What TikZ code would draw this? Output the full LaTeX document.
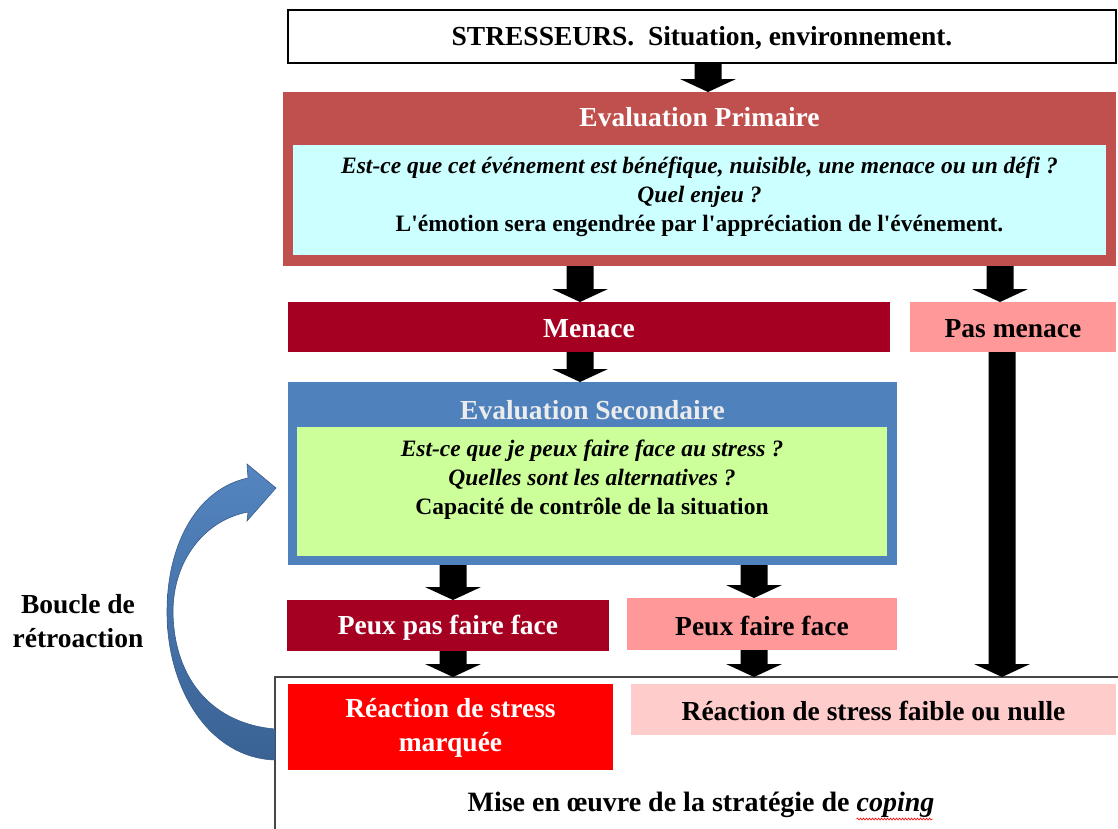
\documentclass[tikz,border=0pt]{standalone}
\usepackage{fontspec}
\setmainfont{Liberation Serif}[Ligatures=TeXOff]
\usetikzlibrary{calc,decorations.pathmorphing}
\definecolor{primred}{RGB}{192,80,77}
\definecolor{cyanin}{RGB}{204,255,255}
\definecolor{darkred}{RGB}{165,0,33}
\definecolor{pinkbox}{RGB}{255,153,153}
\definecolor{secblue}{RGB}{79,129,189}
\definecolor{greenin}{RGB}{204,255,153}
\definecolor{lightpink}{RGB}{255,204,204}
\definecolor{framegray}{RGB}{70,70,70}
\definecolor{arrtop}{RGB}{84,133,192}
\definecolor{arrbot}{RGB}{58,98,148}
\definecolor{arredge}{RGB}{56,92,138}
\definecolor{sectitle}{RGB}{236,236,236}
\tikzset{
  panel/.style={rectangle, inner sep=0pt, outer sep=0pt},
  hd/.style={font=\fontsize{27.5}{34}\selectfont\bfseries, align=center, inner sep=0pt},
  bd/.style={font=\fontsize{23.5}{29}\selectfont\bfseries, align=center, inner sep=0pt},
}
\newcommand\blockarr[2]{\fill[black] let \p1=(#1), \p2=(#2) in
  (\x1-13.5pt,\y1) -- (\x1+13.5pt,\y1) -- (\x1+13.5pt,\y2+13pt) -- (\x1+28pt,\y2+13pt)
  -- (\x1,\y2) -- (\x1-28pt,\y2+13pt) -- (\x1-13.5pt,\y2+13pt) -- cycle;}
\begin{document}
\begin{tikzpicture}[x=1pt,y=-1pt]
\useasboundingbox (0,0) rectangle (1118,828);
\fill[white] (0,0) rectangle (1118,828);

% top box
\node[panel, draw=black, line width=1.3pt, fill=white, minimum width=828pt, minimum height=53pt] (stress) at (702,36.5) {};
\node[hd] (stresst) at (702,38) {STRESSEURS.\ \ Situation, environnement.};

% primary evaluation
\node[panel, fill=primred, minimum width=833pt, minimum height=174pt] (prim) at (699.5,179) {};
\node[panel, fill=cyanin, minimum width=813pt, minimum height=110pt] (primin) at (699.5,200) {};
\node[hd, text=white] (primt) at (699.5,117) {Evaluation Primaire};
\node[bd] (primq) at (699.5,197) {\itshape Est-ce que cet événement est bénéfique, nuisible,\ une menace ou un défi ?\\ \itshape Quel enjeu ?\\ L'émotion sera engendrée par l'appréciation de l'événement.};

% menace row
\node[panel, fill=darkred, minimum width=602pt, minimum height=50pt] (men) at (589,327) {};
\node[hd, text=white] (ment) at (589,329) {Menace};
\node[panel, fill=pinkbox, minimum width=206pt, minimum height=50pt] (pasmen) at (1013,327) {};
\node[hd] (pasment) at (1013,329) {Pas menace};

% secondary evaluation
\node[panel, fill=secblue, minimum width=609pt, minimum height=183pt] (sec) at (592.5,473.5) {};
\node[panel, fill=greenin, minimum width=590pt, minimum height=129pt] (secin) at (592,491.5) {};
\node[hd, text=sectitle] (sect) at (592.5,410) {Evaluation Secondaire};
\node[bd] (secq) at (592,480) {\itshape Est-ce que je peux faire face au stress ?\\ \itshape Quelles sont les alternatives ?\\ Capacité de contrôle de la situation};

% coping rows
\node[panel, fill=darkred, minimum width=322pt, minimum height=51pt] (ppf) at (448,625.5) {};
\node[hd, text=white] (ppft) at (448,628) {Peux pas faire face};
\node[panel, fill=pinkbox, minimum width=270pt, minimum height=52pt] (pf) at (762,624) {};
\node[hd] (pft) at (762,626) {Peux faire face};

% bottom frame
\coordinate (frame) at (275,677);
\draw[framegray, line width=1.2pt] (1125,677) -- (frame) -- (275,835);
\node[panel, fill=red, minimum width=325pt, minimum height=86pt] (rm) at (450.5,727) {};
\node[hd, text=white] (rmt) at (450.5,728) {Réaction de stress\\ marquée};
\node[panel, fill=lightpink, minimum width=485pt, minimum height=51pt] (rf) at (873.5,709.5) {};
\node[hd] (rft) at (873.5,711) {Réaction de stress faible ou nulle};
\node[hd, font=\fontsize{28}{34}\selectfont\bfseries] (mise) at (701,805) {Mise en œuvre de la stratégie de \textit{coping}};
\draw[red, line width=0.6pt, decorate, decoration={snake, amplitude=1pt, segment length=3pt}]
  ($(mise.south east)+(-78,1)$) -- ($(mise.south east)+(-2,1)$);

% block arrows
\blockarr{708,0 |- stress.south}{708,0 |- prim.north}
\blockarr{580,0 |- prim.south}{580,0 |- men.north}
\blockarr{1000,0 |- prim.south}{1000,0 |- pasmen.north}
\blockarr{580,0 |- men.south}{580,0 |- sec.north}
\blockarr{1002,0 |- pasmen.south}{1002,0 |- frame}
\blockarr{453,0 |- sec.south}{453,0 |- ppf.north}
\blockarr{754,0 |- sec.south}{754,0 |- pf.north}
\blockarr{453,0 |- ppf.south}{453,0 |- frame}
\blockarr{754,0 |- pf.south}{754,0 |- frame}

% feedback loop
\shade[top color=arrtop, bottom color=arrbot, draw=arredge, line width=0.6pt]
  (248,478) .. controls (200,488) and (167,540) .. (167,612)
  .. controls (167,690) and (210,758) .. (275,760)
  -- (275,729) .. controls (215,724) and (174,682) .. (173,612)
  .. controls (173,560) and (205,520) .. (248,512)
  -- (247,521) -- (276,488) -- (247,464) -- cycle;
\node[hd] (boucle) at (78,621) {Boucle de\\ rétroaction};
\end{tikzpicture}
\end{document}
